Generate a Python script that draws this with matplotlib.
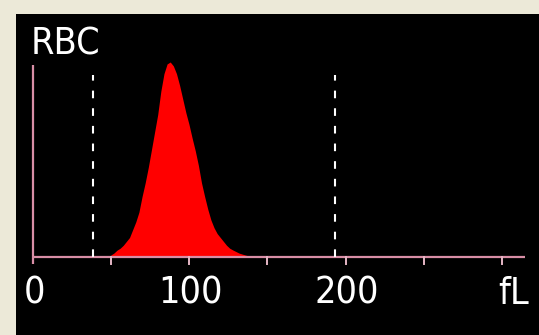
import matplotlib
matplotlib.use("Agg")
import matplotlib.pyplot as plt
from matplotlib import font_manager
import os

plt.rcParams['lines.scale_dashes'] = False

# Data: RBC volume distribution, relative height
volume_fl = [50, 52, 54, 56, 58, 60, 62, 64, 66, 68, 70, 72, 74, 76, 78, 80,
             82, 84, 86, 88, 90, 92, 94, 96, 98, 100, 102, 104, 106, 108, 110,
             112, 114, 116, 118, 120, 122, 124, 126, 128, 130, 132, 134, 136,
             138, 140]
rel_count = [0.01, 0.02, 0.035, 0.045, 0.06, 0.08, 0.10, 0.14, 0.18, 0.23,
             0.31, 0.38, 0.46, 0.55, 0.64, 0.73, 0.85, 0.94, 0.99, 1.00, 0.98,
             0.94, 0.88, 0.81, 0.74, 0.68, 0.61, 0.545, 0.47, 0.38, 0.31, 0.245,
             0.19, 0.15, 0.12, 0.10, 0.08, 0.06, 0.045, 0.036, 0.028, 0.02,
             0.015, 0.01, 0.006, 0.003]
discriminators = [38.5, 193.3]
tick_values = [0, 50, 100, 150, 200, 250, 300]
tick_labels = {0: "0", 100: "100", 200: "200"}
unit_label = "fL"
unit_pos = 307.7
title = "RBC"
x_axis_end = 315
y_axis_top = 0.985


def pick_narrow_font():
    files = [f.fname for f in font_manager.fontManager.ttflist]
    prefs = ['LiberationSansNarrow-Regular', 'DejaVuSansCondensed.ttf',
             'RobotoCondensed-Regular', 'NotoSans-Condensed.ttf',
             'NotoSans-CondensedRegular', 'OpenSans-CondensedRegular',
             'OpenSans_Condensed-Regular', 'Roboto_Condensed-Regular']
    for p in prefs:
        for f in files:
            if p.lower() in os.path.basename(f).lower():
                return font_manager.FontProperties(fname=f), True
    for f in files:
        b = os.path.basename(f).lower()
        if ('condensed' in b or 'narrow' in b) and 'bold' not in b and \
                'italic' not in b and 'light' not in b and 'semi' not in b \
                and 'extra' not in b and 'thin' not in b and 'medium' not in b \
                and 'black' not in b:
            return font_manager.FontProperties(fname=f), True
    return font_manager.FontProperties(family='DejaVu Sans'), False


fp, narrow = pick_narrow_font()
fsize = 27 if narrow else 22

W, H = 539, 335
fig = plt.figure(figsize=(W / 100, H / 100), dpi=100)
fig.patch.set_facecolor('#ECE9D8')

left, top = 16, 14
ax = fig.add_axes([left / W, 0, (W - left) / W, (H - top) / H])
ax.set_facecolor('black')
for s in ax.spines.values():
    s.set_visible(False)
ax.set_xticks([])
ax.set_yticks([])

x0px, pxper = 32.5, 1.565
base_px, unit_px = 257, 195
ax.set_xlim((left - x0px) / pxper, (W - x0px) / pxper)
ax.set_ylim(-(H - base_px) / unit_px, (base_px - top) / unit_px)

ax.fill_between(volume_fl, rel_count, 0, color='#FF0000', lw=0, zorder=2)

axis_col = '#d88ea6'
ax.plot([0, x_axis_end], [0, 0], color=axis_col, lw=1.6, zorder=3,
        solid_capstyle='butt')
ax.plot([0, 0], [-0.036, y_axis_top], color=axis_col, lw=1.6, zorder=3,
        solid_capstyle='butt')
for t in tick_values[1:]:
    ax.plot([t, t], [0, -0.036], color='#e6b8c6', lw=1.4, zorder=3)

for d in discriminators:
    ax.plot([d, d], [0, 0.933], color='white', lw=1.5,
            linestyle=(0, (5.5, 7.2)), zorder=4)

lab_y = -(303.6 - base_px) / unit_px
for v, s in tick_labels.items():
    ax.text(v + 1, lab_y, s, color='white', fontproperties=fp, fontsize=fsize,
            ha='center', va='baseline', zorder=5)
ax.text(unit_pos, lab_y, unit_label, color='white', fontproperties=fp,
        fontsize=fsize, ha='center', va='baseline', zorder=5)
ax.text(-1.5, (base_px - 55) / unit_px, title, color='white',
        fontproperties=fp, fontsize=fsize, ha='left', va='baseline', zorder=5)

fig.savefig('out.png', dpi=100, facecolor=fig.get_facecolor())
